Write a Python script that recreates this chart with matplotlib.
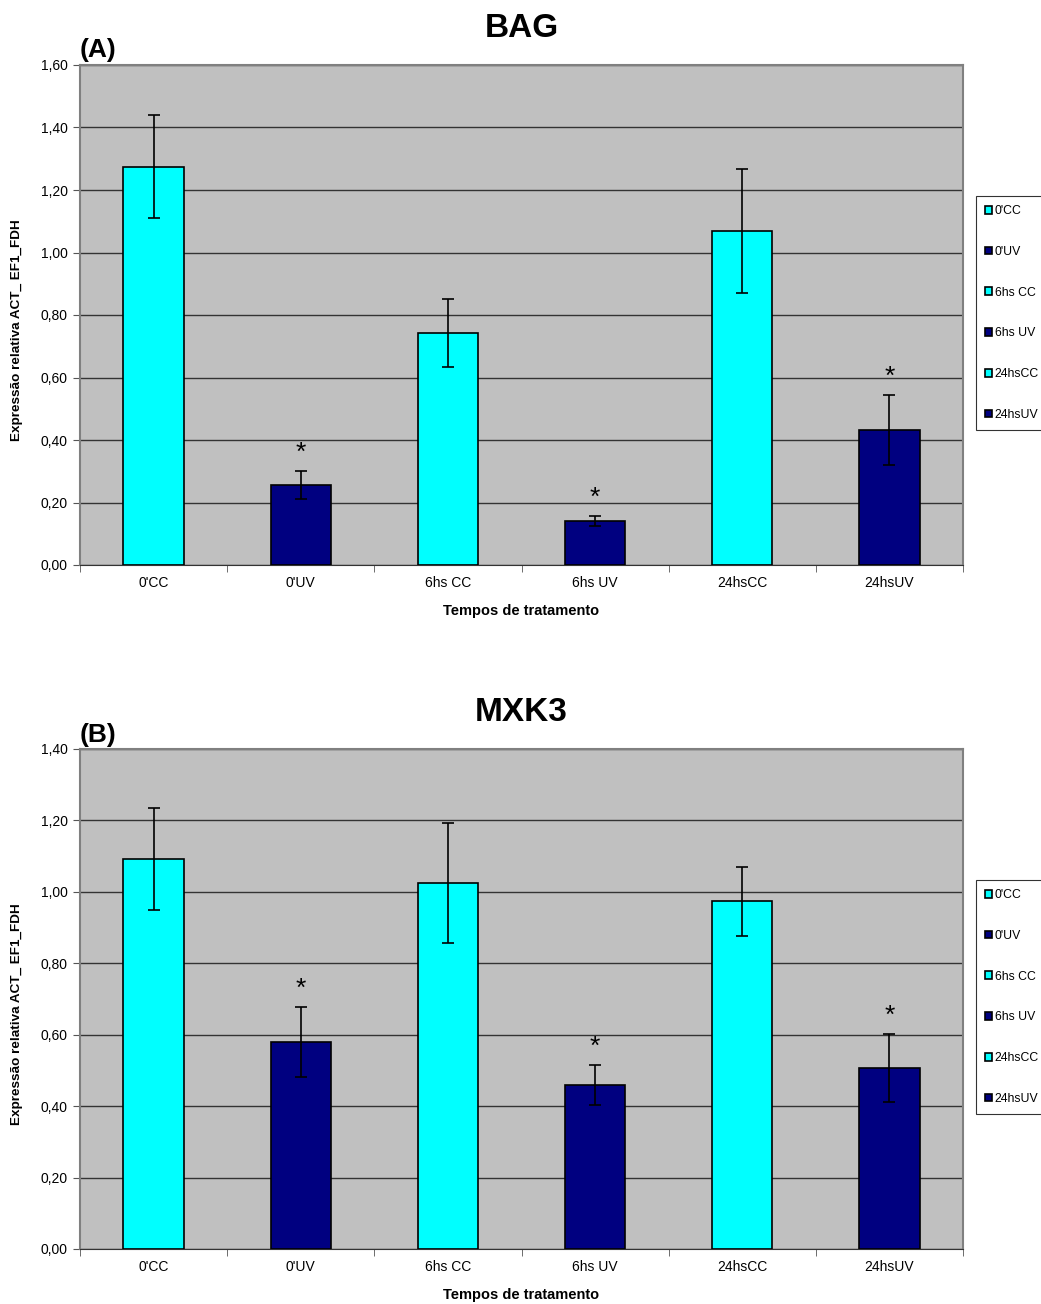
import numpy as np
import matplotlib
matplotlib.use("Agg")
import matplotlib.pyplot as plt
from matplotlib.ticker import FuncFormatter, FixedLocator

plt.rcParams['font.family'] = ['Liberation Sans', 'DejaVu Sans']

categories = ["0'CC", "0'UV", "6hs CC", "6hs UV", "24hsCC", "24hsUV"]
legend_labels = ["0'CC", "0'UV", "6hs CC", "6hs UV", "24hsCC", "24hsUV"]
colors = ["#00FFFF", "#000080", "#00FFFF", "#000080", "#00FFFF", "#000080"]

# panel A: BAG
bag_values = [1.274, 0.256, 0.742, 0.141, 1.069, 0.432]
bag_errors = [0.165, 0.046, 0.108, 0.016, 0.198, 0.112]
bag_stars = [False, True, False, True, False, True]

# panel B: MXK3
mxk3_values = [1.092, 0.580, 1.025, 0.459, 0.974, 0.507]
mxk3_errors = [0.143, 0.098, 0.168, 0.056, 0.097, 0.094]
mxk3_stars = [False, True, False, True, False, True]

fig = plt.figure(figsize=(10.41, 13.04), dpi=100)
ax_a = fig.add_axes([80/1041, 1 - 565/1304, 883/1041, 500/1304])
ax_b = fig.add_axes([80/1041, 1 - 1249/1304, 883/1041, 500/1304])


def draw_panel(ax, values, errors, stars, ymax, title, tag):
    x = np.arange(len(categories))
    ax.set_facecolor("#C0C0C0")
    for i in range(len(categories)):
        ax.bar(x[i], values[i], width=0.41, color=colors[i], edgecolor="black",
               linewidth=1.2, label=legend_labels[i], zorder=3)
        ax.errorbar(x[i], values[i], yerr=errors[i], fmt="none", ecolor="black",
                    elinewidth=1.2, capsize=4, capthick=1.2, zorder=4)
        if stars[i]:
            ax.text(x[i], values[i] + errors[i] + 0.012 * ymax, "*", ha="center",
                    va="bottom", fontsize=19, zorder=5)
    ax.set_xlim(-0.5, len(categories) - 0.5)
    ax.set_ylim(0, ymax)
    ax.set_yticks(np.arange(0, ymax + 0.001, 0.2))
    ax.yaxis.set_major_formatter(FuncFormatter(lambda v, p: f"{v:.2f}".replace(".", ",")))
    ax.yaxis.grid(True, color="#333333", linewidth=1.0, zorder=1)
    ax.set_axisbelow(True)
    ax.set_xticks(x)
    ax.set_xticklabels(categories)
    ax.tick_params(axis="x", length=0, pad=8, labelsize=10)
    ax.xaxis.set_minor_locator(FixedLocator(np.arange(-0.5, len(categories), 1.0)))
    ax.tick_params(axis="x", which="minor", length=5, color="#555555", direction="out")
    ax.tick_params(axis="y", length=5, color="#555555", labelsize=10, pad=4)
    for s in ["top", "right", "left"]:
        ax.spines[s].set_color("#808080")
        ax.spines[s].set_linewidth(1.5)
    ax.spines["bottom"].set_color("#333333")
    ax.set_xlabel("Tempos de tratamento", fontsize=10.5, fontweight="bold", labelpad=10)
    ax.set_ylabel("Expressão relativa ACT_ EF1_FDH", fontsize=9.7, fontweight="bold")
    ax.yaxis.set_label_coords(-0.0645, 0.47)
    ax.set_title(title, fontsize=24, fontweight="bold", pad=20, x=0.5)
    ax.text(0.0, 1.005, tag, transform=ax.transAxes, fontsize=19, fontweight="bold",
            ha="left", va="bottom")
    leg = ax.legend(loc="upper left", bbox_to_anchor=(1.0147, 0.738), fontsize=8.8,
                    handlelength=0.6, handleheight=0.6, handletextpad=0.2,
                    labelspacing=2.35, borderpad=0.75, borderaxespad=0,
                    frameon=True, fancybox=False, edgecolor="black")
    leg.get_frame().set_linewidth(0.8)


draw_panel(ax_a, bag_values, bag_errors, bag_stars, 1.6, "BAG", "(A)")
draw_panel(ax_b, mxk3_values, mxk3_errors, mxk3_stars, 1.4, "MXK3", "(B)")

fig.savefig("out.png", dpi=100)
